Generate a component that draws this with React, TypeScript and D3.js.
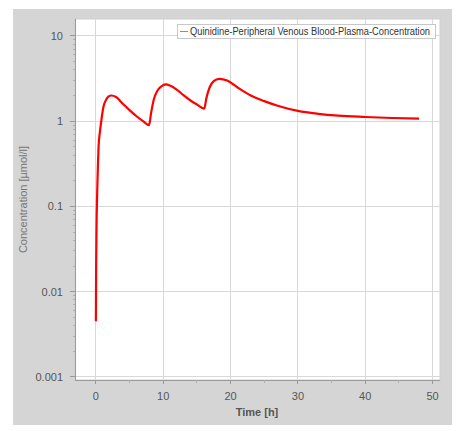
import React, { useEffect, useRef } from 'react'
import * as d3 from 'd3'

// Quinidine plasma concentration
const times = [0, 0.04, 0.1, 0.2, 0.3, 0.4, 0.6, 0.8, 1.1, 1.5, 1.9, 2.3, 3.0, 4.0, 5.0, 6.0, 7.0, 7.9,
  8.2, 8.6, 9.1, 9.7, 10.4, 11.0, 12.0, 13.0, 14.0, 15.0, 16.1,
  16.4, 16.9, 17.5, 18.3, 19.5, 21.0, 23.0, 25.0, 27.0, 30.0, 33.0, 36.0, 40.0, 44.0, 48.0]
const concentration = [0.0045, 0.02, 0.06, 0.15, 0.3, 0.5, 0.75, 1.0, 1.45, 1.77, 1.95, 2.0, 1.92, 1.6, 1.35, 1.15, 1.0, 0.9,
  1.25, 1.8, 2.25, 2.55, 2.7, 2.62, 2.35, 2.02, 1.76, 1.57, 1.4,
  1.85, 2.5, 2.95, 3.14, 3.0, 2.5, 2.0, 1.72, 1.52, 1.32, 1.22, 1.16, 1.12, 1.09, 1.07]

const xTicks = [0, 10, 20, 30, 40, 50]
const xMinorTicks = [5, 15, 25, 35, 45]
const yTicks = [0.001, 0.01, 0.1, 1, 10]
const yTickLabels = ['0.001', '0.01', '0.1', '1', '10']

const seriesLabel = 'Quinidine-Peripheral Venous Blood-Plasma-Concentration'

export default function App() {
  const svgRef = useRef<SVGSVGElement>(null)

  useEffect(() => {
    if (!svgRef.current) return
    const root = d3.select(svgRef.current)
    root.selectAll('*').remove()

    const W = 462
    const H = 431
    const plot = { left: 75, right: 440, top: 19, bottom: 380 }
    const font = '"Liberation Sans", Arial, sans-serif'

    root.attr('width', W).attr('height', H)

    // panel background
    root.append('rect')
      .attr('x', 13).attr('y', 9).attr('width', 439).attr('height', 416)
      .attr('fill', '#d5d5d5')

    root.append('rect')
      .attr('x', plot.left).attr('y', plot.top)
      .attr('width', plot.right - plot.left).attr('height', plot.bottom - plot.top)
      .attr('fill', '#ffffff')
      .attr('stroke', '#cfcfcf')

    const x = d3.scaleLinear().domain([-3.1, 51.1]).range([plot.left, plot.right])
    const y = d3.scaleLog().domain([0.00092, 15.8]).range([plot.bottom, plot.top])

    // grid
    const g = root.append('g')
    g.selectAll('.vgrid').data(xTicks).enter().append('line')
      .attr('x1', d => x(d)).attr('x2', d => x(d))
      .attr('y1', plot.top).attr('y2', plot.bottom)
      .attr('stroke', '#d8d8d8').attr('shape-rendering', 'crispEdges')
    g.selectAll('.hgrid').data(yTicks).enter().append('line')
      .attr('x1', plot.left).attr('x2', plot.right)
      .attr('y1', d => y(d)).attr('y2', d => y(d))
      .attr('stroke', '#d8d8d8').attr('shape-rendering', 'crispEdges')

    // axis lines
    root.append('line')
      .attr('x1', plot.left).attr('x2', plot.left)
      .attr('y1', plot.top).attr('y2', plot.bottom + 1)
      .attr('stroke', '#9a9a9a').attr('shape-rendering', 'crispEdges')
    root.append('line')
      .attr('x1', plot.left).attr('x2', plot.right)
      .attr('y1', plot.bottom).attr('y2', plot.bottom)
      .attr('stroke', '#9a9a9a').attr('shape-rendering', 'crispEdges')

    // y ticks (major + minor)
    const yMinor: number[] = []
    for (let e = -3; e <= 1; e++) {
      for (let k = 2; k <= 9; k++) {
        const v = k * Math.pow(10, e)
        if (v < 15.8) yMinor.push(v)
      }
    }
    root.selectAll('.ymaj').data(yTicks).enter().append('line')
      .attr('x1', plot.left - 5).attr('x2', plot.left)
      .attr('y1', d => y(d)).attr('y2', d => y(d))
      .attr('stroke', '#9a9a9a').attr('shape-rendering', 'crispEdges')
    root.selectAll('.ymin').data(yMinor).enter().append('line')
      .attr('x1', plot.left - 2).attr('x2', plot.left)
      .attr('y1', d => y(d)).attr('y2', d => y(d))
      .attr('stroke', '#b0b0b0').attr('shape-rendering', 'crispEdges')
    root.selectAll('.ylab').data(yTicks).enter().append('text')
      .attr('x', plot.left - 12).attr('y', d => y(d))
      .attr('dy', '0.35em')
      .attr('text-anchor', 'end')
      .attr('fill', '#555')
      .style('font-family', font).style('font-size', '11px')
      .text((d, i) => yTickLabels[i])

    // x ticks
    root.selectAll('.xmaj').data(xTicks).enter().append('line')
      .attr('x1', d => x(d)).attr('x2', d => x(d))
      .attr('y1', plot.bottom).attr('y2', plot.bottom + 4)
      .attr('stroke', '#9a9a9a').attr('shape-rendering', 'crispEdges')
    root.selectAll('.xmin').data(xMinorTicks).enter().append('line')
      .attr('x1', d => x(d)).attr('x2', d => x(d))
      .attr('y1', plot.bottom).attr('y2', plot.bottom + 3)
      .attr('stroke', '#b0b0b0').attr('shape-rendering', 'crispEdges')
    root.selectAll('.xlab').data(xTicks).enter().append('text')
      .attr('x', d => x(d)).attr('y', plot.bottom + 20)
      .attr('text-anchor', 'middle')
      .attr('fill', '#555')
      .style('font-family', font).style('font-size', '11px')
      .text(d => String(d))

    // axis titles
    root.append('text')
      .attr('x', 257).attr('y', 416)
      .attr('text-anchor', 'middle')
      .attr('fill', '#555')
      .style('font-family', font).style('font-size', '11px').style('font-weight', 'bold')
      .text('Time [h]')
    root.append('text')
      .attr('transform', `translate(27,${(plot.top + plot.bottom) / 2}) rotate(-90)`)
      .attr('text-anchor', 'middle')
      .attr('fill', '#777')
      .style('font-family', font).style('font-size', '11px')
      .text('Concentration [µmol/l]')

    // line
    const pts = times.map((t, i) => [t, concentration[i]] as [number, number])
    const line = d3.line<[number, number]>()
      .x(d => x(d[0]))
      .y(d => y(d[1]))
      .curve(d3.curveMonotoneX)
    root.append('path')
      .datum(pts)
      .attr('fill', 'none')
      .attr('stroke', '#ff0000')
      .attr('stroke-width', 2.2)
      .attr('stroke-linejoin', 'round')
      .attr('d', line)

    // legend
    const lg = root.append('g')
    lg.append('rect')
      .attr('x', 177.5).attr('y', 24.5).attr('width', 258).attr('height', 14)
      .attr('fill', '#ffffff').attr('stroke', '#c8c8c8')
    lg.append('line')
      .attr('x1', 180).attr('x2', 188).attr('y1', 31.5).attr('y2', 31.5)
      .attr('stroke', '#ff6060').attr('stroke-width', 1)
    lg.append('text')
      .attr('x', 190).attr('y', 35)
      .attr('fill', '#333')
      .attr('textLength', 240).attr('lengthAdjust', 'spacingAndGlyphs')
      .style('font-family', font).style('font-size', '10px')
      .text(seriesLabel)
  }, [])

  return (
    <div style={{ position: 'absolute', left: 0, top: 0 }}>
      <svg ref={svgRef} style={{ display: 'block' }}></svg>
    </div>
  )
}
